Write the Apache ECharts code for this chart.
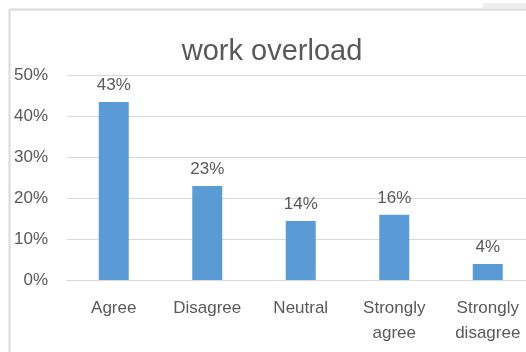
<!DOCTYPE html>
<html>
<head>
<meta charset="utf-8">
<script src="https://cdn.jsdelivr.net/npm/echarts@6/dist/echarts.min.js"></script>
<style>
html,body{margin:0;padding:0;background:#fff;overflow:hidden;}
#c{width:536px;height:352px;}
</style>
</head>
<body>
<div id="c"></div>
<script>
const categories = ['Agree', 'Disagree', 'Neutral', 'Strongly\nagree', 'Strongly\ndisagree'];
const values = [43.4, 22.9, 14.4, 15.9, 3.9];
const yTicks = [0, 10, 20, 30, 40, 50];
const titleText = 'work overload';

const chart = echarts.init(document.getElementById('c'), null, {renderer: 'canvas'});
const font = '"Liberation Sans", Arial, sans-serif';
const txt = '#595959';
chart.setOption({
  animation: false,
  backgroundColor: '#fff',
  title: {
    text: titleText,
    left: 267, top: 32, textAlign: 'center',
    textStyle: {fontFamily: font, fontSize: 29, fontWeight: 'normal', color: txt}
  },
  graphic: [
    {type: 'line', shape: {x1: 9.5, y1: 9.5, x2: 536, y2: 9.5}, style: {stroke: '#d9d9d9', lineWidth: 2}},
    {type: 'line', shape: {x1: 9.5, y1: 9.5, x2: 9.5, y2: 352}, style: {stroke: '#d9d9d9', lineWidth: 2}},
    {type: 'rect', shape: {x: 483, y: 3, width: 53, height: 5}, style: {fill: '#eeeeee'}}
  ],
  grid: {left: 67, top: 75, width: 467.5, height: 205, containLabel: false},
  xAxis: {
    type: 'category',
    data: categories,
    axisLine: {lineStyle: {color: '#d9d9d9', width: 1}},
    axisTick: {show: false},
    axisLabel: {fontFamily: font, fontSize: 17, color: txt, margin: 16, lineHeight: 25, interval: 0}
  },
  yAxis: {
    type: 'value',
    min: yTicks[0], max: yTicks[yTicks.length - 1], interval: 10,
    axisLine: {show: false},
    axisTick: {show: false},
    splitLine: {lineStyle: {color: '#d9d9d9', width: 1}},
    axisLabel: {fontFamily: font, fontSize: 17, color: txt, margin: 19, formatter: v => v + '%'}
  },
  series: [{
    type: 'bar',
    data: values,
    barWidth: 30,
    itemStyle: {color: '#5b9bd5'},
    label: {
      show: true, position: 'top', distance: 8,
      fontFamily: font, fontSize: 17, color: txt,
      formatter: p => Math.round(p.value) + '%'
    }
  }]
});
</script>
</body>
</html>
